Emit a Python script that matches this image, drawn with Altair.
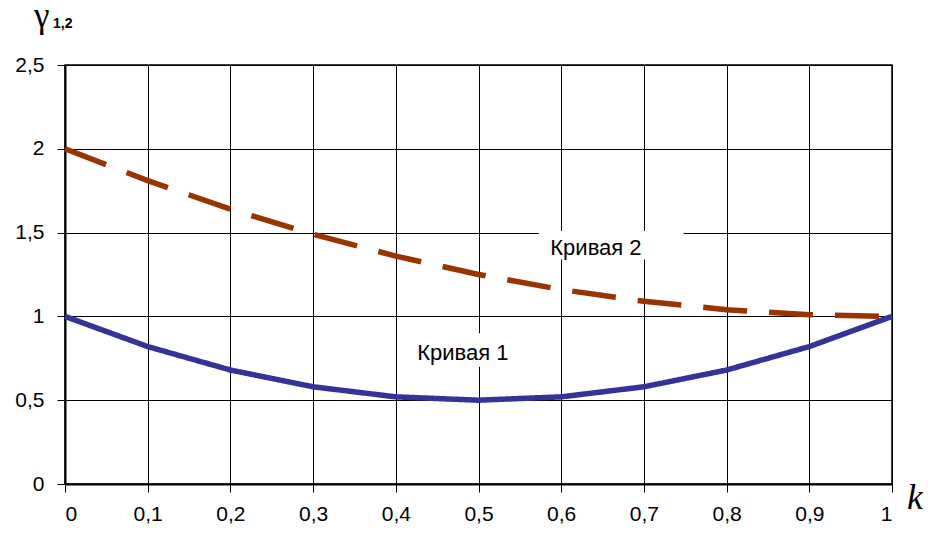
import altair as alt
import pandas as pd

k_values = [0.0, 0.1, 0.2, 0.3, 0.4, 0.5, 0.6, 0.7, 0.8, 0.9, 1.0]
curve1 = [1.0, 0.82, 0.68, 0.58, 0.52, 0.50, 0.52, 0.58, 0.68, 0.82, 1.0]
curve2 = [2.0, 1.81, 1.64, 1.49, 1.36, 1.25, 1.16, 1.09, 1.04, 1.01, 1.0]
series_names = ["Кривая 1", "Кривая 2"]
series_colors = ["#333399", "#993300"]
x_ticks = [0, 0.1, 0.2, 0.3, 0.4, 0.5, 0.6, 0.7, 0.8, 0.9, 1]
y_ticks = [0, 0.5, 1, 1.5, 2, 2.5]

rows = []
for k, a, b in zip(k_values, curve1, curve2):
    rows.append({"k": k, "g": a, "curve": series_names[0]})
    rows.append({"k": k, "g": b, "curve": series_names[1]})
df = pd.DataFrame(rows)

labels = pd.DataFrame({
    "text": ["Кривая 1", "Кривая 2"],
    "x": [0.481, 0.642],
    "y": [0.782, 1.41],
    "x1": [0.415, 0.573],
    "x2": [0.56, 0.748],
    "y1": [0.70, 1.34],
    "y2": [0.90, 1.51],
})

W, H = 827, 419
FONT = "Liberation Sans"

xs = alt.Scale(domain=[0, 1], nice=False, zero=False)
ys = alt.Scale(domain=[0, 2.5], nice=False)

lines = alt.Chart(df).mark_line(strokeWidth=5.5, strokeCap="butt", strokeJoin="round").encode(
    x=alt.X("k:Q", scale=xs, axis=alt.Axis(values=x_ticks, title=None, format="~g",
                                          labelExpr="replace(datum.label, '.', ',')",
                                          labelPadding=11, labelFontSize=21)),
    y=alt.Y("g:Q", scale=ys, axis=alt.Axis(values=y_ticks, title=None, format="~g",
                                          labelExpr="replace(datum.label, '.', ',')",
                                          labelPadding=13, labelFontSize=21)),
    color=alt.Color("curve:N", scale=alt.Scale(domain=series_names, range=series_colors), legend=None),
    strokeDash=alt.StrokeDash("curve:N", scale=alt.Scale(domain=series_names, range=[[1, 0], [44, 22]]), legend=None),
    detail="curve:N",
)

boxes = alt.Chart(labels).mark_rect(color="white").encode(
    x=alt.X("x1:Q", scale=xs), x2="x2:Q",
    y=alt.Y("y1:Q", scale=ys), y2="y2:Q",
)

texts = alt.Chart(labels).mark_text(font=FONT, fontSize=22, color="black").encode(
    x=alt.X("x:Q", scale=xs), y=alt.Y("y:Q", scale=ys), text="text:N"
)

gamma = alt.Chart(pd.DataFrame({"t": ["γ"]})).mark_text(
    font="Liberation Serif", fontSize=35, align="left", baseline="alphabetic", color="black"
).encode(x=alt.value(-31), y=alt.value(-38), text="t:N")

sub = alt.Chart(pd.DataFrame({"t": ["1,2"]})).mark_text(
    font=FONT, fontSize=14, fontWeight="bold", align="left", baseline="alphabetic", color="black"
).encode(x=alt.value(-12), y=alt.value(-37), text="t:N")

kt = alt.Chart(pd.DataFrame({"t": ["k"]})).mark_text(
    font="Liberation Serif", fontSize=36, fontStyle="italic", align="left", baseline="alphabetic", color="black"
).encode(x=alt.value(W + 15), y=alt.value(H + 25), text="t:N")

chart = alt.layer(boxes, lines, texts, gamma, sub, kt).properties(
    width=W, height=H,
    autosize=alt.AutoSizeParams(type="none"),
    padding={"left": 57, "top": 57, "right": 31, "bottom": 42},
    background="white",
).configure_axis(
    grid=True, gridColor="black", gridWidth=1, gridOpacity=1,
    domainColor="black", domainWidth=2, tickColor="black", tickSize=8, tickWidth=1,
    labelFont=FONT, labelColor="black",
).configure_view(stroke="black", strokeWidth=1.5)

chart.save("out.html", embed_options={"renderer": "svg", "actions": False})
